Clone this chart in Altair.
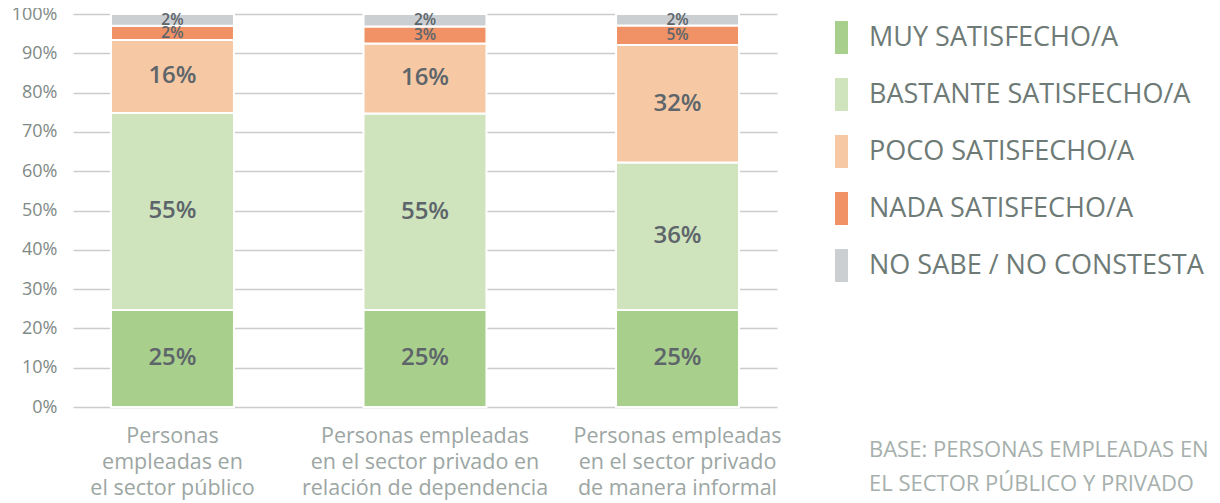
import altair as alt
import pandas as pd

categories = [
    "Personas|empleadas en|el sector público",
    "Personas empleadas|en el sector privado en|relación de dependencia",
    "Personas empleadas|en el sector privado|de manera informal",
]
levels = [
    "MUY SATISFECHO/A",
    "BASTANTE SATISFECHO/A",
    "POCO SATISFECHO/A",
    "NADA SATISFECHO/A",
    "NO SABE / NO CONSTESTA",
]
colors = ["#a9cf8c", "#cfe3bd", "#f6c9a4", "#f09266", "#cbcfd2"]

# segment heights as drawn in the picture (% of the bar)
heights_publico = [24.7, 50.1, 18.6, 3.6, 3.0]
heights_dependencia = [24.7, 50.0, 17.8, 4.3, 3.2]
heights_informal = [24.7, 37.5, 29.9, 5.0, 2.9]

# printed labels
labels_publico = ["25%", "55%", "16%", "2%", "2%"]
labels_dependencia = ["25%", "55%", "16%", "3%", "2%"]
labels_informal = ["25%", "36%", "32%", "5%", "2%"]

y_ticks = [0, 10, 20, 30, 40, 50, 60, 70, 80, 90, 100]

footnote = ["BASE: PERSONAS EMPLEADAS EN", "EL SECTOR PÚBLICO Y PRIVADO"]

rows = []
for cat, hs, ls in zip(
    categories,
    [heights_publico, heights_dependencia, heights_informal],
    [labels_publico, labels_dependencia, labels_informal],
):
    for i, (lev, h, lab) in enumerate(zip(levels, hs, ls)):
        rows.append({"cat": cat, "level": lev, "idx": i, "value": h, "label": lab,
                     "num": float(lab.rstrip("%"))})
df = pd.DataFrame(rows)

FONT = "Open Sans"

base = (
    alt.Chart(df)
    .transform_stack(
        stack="value",
        groupby=["cat"],
        sort=[alt.SortField("idx", order="ascending")],
        as_=["y0", "y1"],
    )
    .transform_calculate(mid="(datum.y0 + datum.y1) / 2",
                         fs="datum.num >= 10 ? 24 : 15.5")
)

x_axis = alt.Axis(
    labelExpr="split(datum.label, '|')",
    labelAngle=0,
    labelFont=FONT,
    labelFontSize=21.5,
    labelLineHeight=26,
    labelColor="#9ca6a3",
    labelPadding=18,
    labelLimit=0,
    labelOverlap=False,
    domain=False,
    ticks=False,
    grid=False,
)
x_scale = alt.Scale(paddingInner=0.513, paddingOuter=0.1505)

y_axis = alt.Axis(
    values=y_ticks,
    labelExpr="datum.value + '%'",
    labelFont=FONT,
    labelFontSize=18,
    labelColor="#808a87",
    labelPadding=16,
    labelOverlap=False,
    labelFlush=False,
    labelBound=False,
    labelSeparation=0,
    domain=False,
    ticks=False,
    grid=True,
    gridColor="#cccccc",
    gridWidth=1.5,
)
y_scale = alt.Scale(domain=[0, 100])

bars = base.mark_bar(stroke="white", strokeWidth=2).encode(
    x=alt.X("cat:N", sort=categories, title=None, scale=x_scale, axis=x_axis),
    y=alt.Y("y0:Q", scale=y_scale, title=None, axis=y_axis),
    y2="y1:Q",
    color=alt.Color(
        "level:N",
        scale=alt.Scale(domain=levels, range=colors),
        legend=alt.Legend(
            orient="none",
            legendX=752,
            legendY=7,
            title=None,
            padding=0,
            symbolType="M-0.394,-1L0.394,-1L0.394,1L-0.394,1Z",
            symbolSize=1089,
            symbolStrokeWidth=0,
            symbolOpacity=1,
            labelFont=FONT,
            labelFontSize=27,
            labelColor="#6e7a76",
            labelOffset=11,
            rowPadding=24,
            labelLimit=500,
        ),
    ),
)

text = base.mark_text(
    font=FONT, fontWeight=600, color="#5d656b", baseline="middle", align="center"
).encode(
    x=alt.X("cat:N", sort=categories, title=None, scale=x_scale, axis=x_axis),
    y=alt.Y("mid:Q", scale=y_scale, title=None, axis=y_axis),
    text="label:N",
    size=alt.Size("fs:Q", scale=None, legend=None),
)

note = (
    alt.Chart(pd.DataFrame({"k": [0]}))
    .mark_text(
        text=footnote,
        align="left",
        baseline="middle",
        font=FONT,
        fontSize=22,
        lineHeight=34,
        color="#a6afac",
    )
    .encode(x=alt.value(796), y=alt.value(436))
)

chart = (
    alt.layer(bars, text, note)
    .properties(
        width=704,
        height=393,
        padding={"left": 65, "top": 6, "right": 435, "bottom": 95},
        autosize=alt.AutoSizeParams(type="none"),
    )
    .configure_view(stroke=None)
)

chart.save("out.html", embed_options={"renderer": "svg", "actions": False})
